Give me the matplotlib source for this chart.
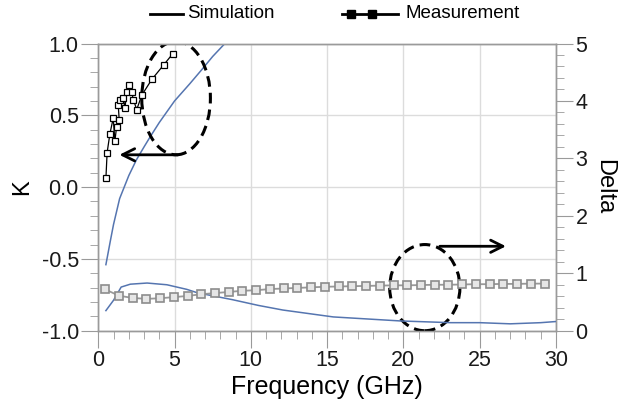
import matplotlib.pyplot as plt
from matplotlib.patches import Ellipse
from matplotlib.lines import Line2D

plt.rcParams['font.family'] = ['Liberation Sans', 'DejaVu Sans']

# ---------------- data ----------------
# K, simulation
k_sim_f = [0.5, 0.8, 1.0, 1.4, 2.0, 2.5, 3.0, 3.4, 4.0, 5.0, 6.0, 6.8, 7.5, 8.3, 9.0]
k_sim = [-0.54, -0.37, -0.26, -0.08, 0.08, 0.19, 0.28, 0.35, 0.45, 0.60, 0.72, 0.82, 0.91, 1.00, 1.08]

# K, measurement
k_meas_f = [0.50, 0.58, 0.76, 0.98, 1.09, 1.20, 1.37, 1.31, 1.42, 1.64, 1.75, 1.86,
            2.03, 2.19, 2.30, 2.52, 2.85, 3.51, 4.28, 4.89]
k_meas = [0.06, 0.24, 0.37, 0.48, 0.32, 0.42, 0.47, 0.57, 0.61, 0.62, 0.55, 0.66,
          0.71, 0.66, 0.61, 0.54, 0.64, 0.75, 0.85, 0.93]

# Delta, simulation
d_sim_f = [0.5, 1.0, 1.5, 2.1, 3.2, 4.5, 5.8, 6.5, 8.8, 10.5, 12.1, 15.4, 19.8, 23.1, 25.0, 27.0, 29.0, 30.0]
d_sim = [0.35, 0.53, 0.76, 0.81, 0.83, 0.80, 0.72, 0.66, 0.54, 0.44, 0.36, 0.24, 0.17, 0.14, 0.14, 0.12, 0.14, 0.16]

# Delta, measurement
d_meas_f = [0.45, 1.35, 2.25, 3.15, 4.05, 4.95, 5.85, 6.75, 7.65, 8.55, 9.45, 10.35,
            11.25, 12.15, 13.05, 13.95, 14.85, 15.75, 16.65, 17.55, 18.45, 19.35,
            20.25, 21.15, 22.05, 22.95, 23.85, 24.75, 25.65, 26.55, 27.45, 28.35, 29.25]
d_meas = [0.72, 0.61, 0.57, 0.555, 0.565, 0.585, 0.605, 0.635, 0.655, 0.675, 0.695, 0.705,
          0.725, 0.735, 0.745, 0.755, 0.765, 0.77, 0.775, 0.78, 0.785, 0.79,
          0.79, 0.795, 0.80, 0.80, 0.805, 0.81, 0.81, 0.815, 0.815, 0.82, 0.82]

blue = '#5575b0'
gray = '#999999'
spine_c = '#9a9a9a'

fig = plt.figure(figsize=(6.2, 4.04), dpi=100)
ax = fig.add_axes([0.1585, 0.1814, 0.7383, 0.7109])
ax2 = ax.twinx()

# ---------------- K axis ----------------
ax.plot(k_sim_f, k_sim, color=blue, lw=1.1, zorder=3)
ax.plot(k_meas_f, k_meas, color='black', lw=0.9, marker='s', ms=4.5,
        mfc='white', mec='black', mew=0.9, zorder=4)

ax.set_xlim(0, 30)
ax.set_ylim(-1, 1)
ax.set_xticks([0, 5, 10, 15, 20, 25, 30])
ax.set_xticks(range(0, 31), minor=True)
ax.set_yticks([-1.0, -0.5, 0.0, 0.5, 1.0])
ax.set_yticklabels(['-1.0', '-0.5', '0.0', '0.5', '1.0'])
ax.set_yticks([i / 10 for i in range(-10, 11)], minor=True)
ax.grid(True, which='major', color='#dcdcdc', lw=1.0)
ax.set_axisbelow(True)
ax.set_xlabel('Frequency (GHz)', fontsize=18, labelpad=3)
ax.set_ylabel('K', fontsize=17, labelpad=6)

# ---------------- Delta axis ----------------
ax2.plot(d_sim_f, d_sim, color=blue, lw=1.1, zorder=3)
ax2.plot(d_meas_f, d_meas, color=gray, lw=1.3, marker='s', ms=5.5,
         mfc='#e6e6e6', mec='#8c8c8c', mew=1.2, zorder=4)
ax2.set_ylim(0, 5)
ax2.set_yticks([0, 1, 2, 3, 4, 5])
ax2.set_yticks([i / 5 for i in range(0, 26)], minor=True)
ax2.set_ylabel('Delta', fontsize=17, rotation=-90, labelpad=20)

for a in (ax, ax2):
    for s in a.spines.values():
        s.set_color(spine_c)
        s.set_linewidth(1.0)
    a.tick_params(which='major', length=12, color=spine_c, labelsize=15.5,
                  labelcolor='#1a1a1a', pad=2)
    a.tick_params(which='minor', length=6, color=spine_c)

# ---------------- annotations ----------------
ax.add_patch(Ellipse((5.1, 0.62), 4.5, 0.79, fill=False, ec='black',
                     lw=2.2, ls=(0, (3.5, 2)), zorder=6))
ax.annotate('', xy=(1.2, 0.225), xytext=(5.4, 0.225),
            arrowprops=dict(arrowstyle='->', color='black', lw=2.0,
                            mutation_scale=22), zorder=6)
ax.add_patch(Ellipse((21.4, -0.70), 4.6, 0.60, fill=False, ec='black',
                     lw=2.2, ls=(0, (3.5, 2)), zorder=6))
ax2.annotate('', xy=(26.9, 1.47), xytext=(22.2, 1.47),
             arrowprops=dict(arrowstyle='->', color='black', lw=2.0,
                             mutation_scale=22), zorder=6)

# ---------------- legend (drawn by hand above the axes) ----------------
W, H = 620.0, 404.0
ly = 1 - 14 / H
fig.add_artist(Line2D([150 / W, 183 / W], [ly, ly], color='black', lw=2.0))
fig.text(187 / W, ly, 'Simulation', fontsize=13.5, va='center', ha='left')
fig.add_artist(Line2D([342 / W, 398 / W], [ly, ly], color='black', lw=2.0))
fig.add_artist(Line2D([351 / W, 372 / W], [ly, ly], color='black', lw=0,
                      marker='s', ms=6))
fig.text(406 / W, ly, 'Measurement', fontsize=13.5, va='center', ha='left')

fig.savefig('out.png', dpi=100)
